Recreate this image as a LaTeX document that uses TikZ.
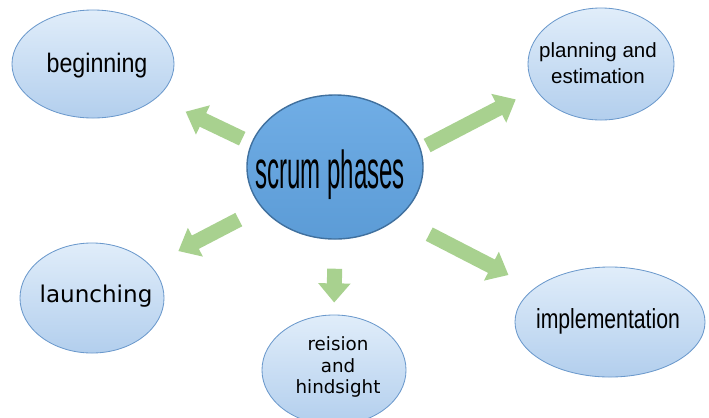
\documentclass[tikz,border=0pt]{standalone}
\usepackage{fontspec}
\usetikzlibrary{shapes.geometric,arrows.meta}
\newfontfamily\tahoma{Liberation Sans}
\newfontfamily\verd{DejaVu Sans}
\tikzset{
  phase/.style={ellipse,draw=ellblue,line width=0.6pt,top color=elltop,bottom color=ellbot,inner sep=0pt},
  hub/.style={ellipse,draw=hubline,line width=1pt,top color=hubtop,bottom color=hubbot,inner sep=0pt,minimum width=4.4cm,minimum height=3.6cm},
  flow/.style={draw=flowgreen,line width=0.375cm,-{Triangle[width=0.78cm,length=0.48cm]}},
  lbl/.style={inner sep=0pt,text=black}
}
\begin{document}
\begin{tikzpicture}[x=0.025cm,y=-0.025cm]
\definecolor{ellblue}{rgb}{0.42,0.6,0.8}
\definecolor{elltop}{rgb}{0.88,0.93,0.98}
\definecolor{ellbot}{rgb}{0.7,0.81,0.93}
\definecolor{hubline}{rgb}{0.25,0.44,0.62}
\definecolor{hubtop}{rgb}{0.44,0.68,0.9}
\definecolor{hubbot}{rgb}{0.36,0.61,0.84}
\definecolor{flowgreen}{rgb}{0.66,0.82,0.56}
\useasboundingbox (0,0) rectangle (709,417);
\clip (0,0) rectangle (709,417);
\node[hub] (ctr) at (335,167) {};
\node[phase,minimum width=4.05cm,minimum height=2.7cm] (beg) at (93,64) {};
\node[phase,minimum width=3.65cm,minimum height=2.8cm] (plan) at (601,64) {};
\node[phase,minimum width=3.6cm,minimum height=2.75cm] (lau) at (92,298) {};
\node[phase,minimum width=3.6cm,minimum height=2.75cm] (rei) at (334,370) {};
\node[phase,minimum width=4.75cm,minimum height=2.75cm] (imp) at (610,322) {};
\node[lbl,anchor=base,font=\tahoma\fontsize{38}{42}\selectfont] (ctrl) at (330,188) {\scalebox{0.45}[1]{scrum phases}};
\node[lbl,anchor=base,font=\tahoma\fontsize{19}{22}\selectfont] (begl) at (97,72) {\scalebox{0.87}[1]{beginning}};
\node[lbl,align=center,font=\tahoma\fontsize{14.6}{18.5}\selectfont] (planl) at (598,63) {planning and\\estimation};
\node[lbl,anchor=base,font=\verd\fontsize{16.4}{19}\selectfont] (laul) at (96,302) {launching};
\node[lbl,align=center,font=\verd\fontsize{13}{15.6}\selectfont] (reil) at (338,367) {reision\\and\\hindsight};
\node[lbl,anchor=base,font=\tahoma\fontsize{19.6}{23}\selectfont] (impl) at (608,328) {\scalebox{0.77}[1]{implementation}};
\draw[flow,shorten <=0.25cm,shorten >=0.8cm] (ctr.164) -- (beg.-28);
\draw[flow,shorten <=0.175cm,shorten >=0.55cm] (ctr.12) -- (plan.201);
\draw[flow,shorten <=0.64cm,shorten >=0.78cm] (ctr.209) -- (lau.29);
\draw[flow,shorten <=0.725cm,shorten >=0.3cm] (ctr.-90) -- (rei.90);
\draw[flow,shorten <=0.875cm,shorten >=0.725cm] (ctr.-39) -- (imp.156);
\end{tikzpicture}
\end{document}
